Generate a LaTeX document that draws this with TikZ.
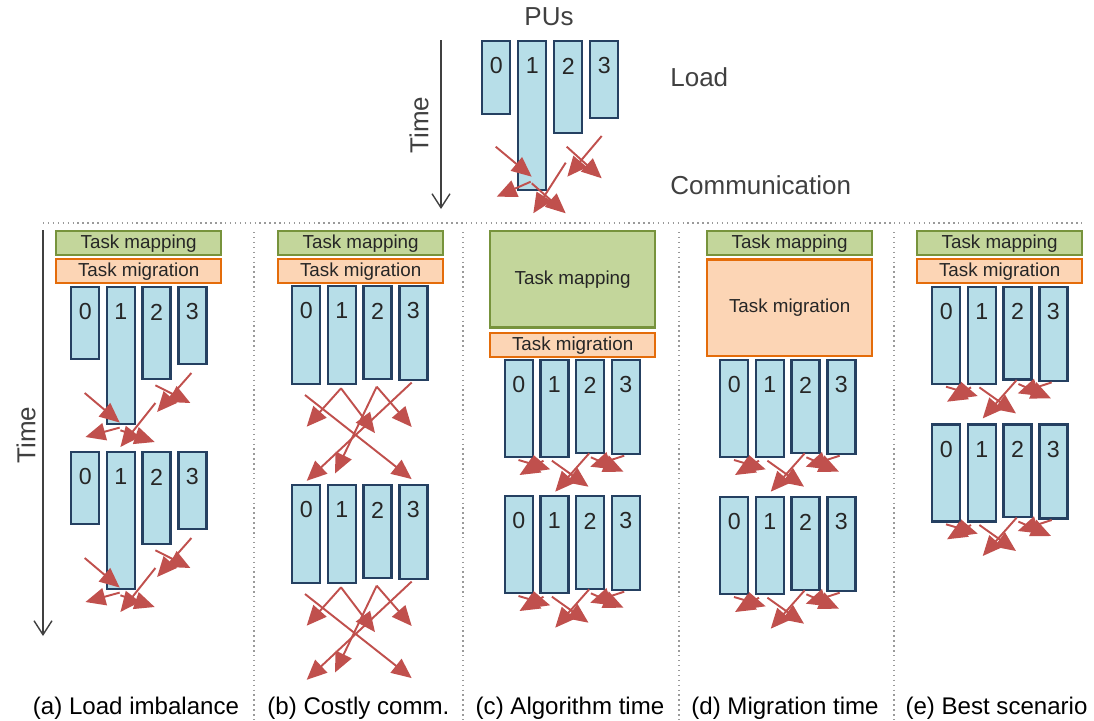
\documentclass[tikz,border=0pt]{standalone}
\usepackage{fontspec}
\setmainfont{Liberation Sans}
\usetikzlibrary{arrows.meta}
\definecolor{barfill}{HTML}{B7DEE8}
\definecolor{barline}{HTML}{254061}
\definecolor{mapfill}{HTML}{C3D69B}
\definecolor{mapline}{HTML}{77933C}
\definecolor{migfill}{HTML}{FCD5B5}
\definecolor{migline}{HTML}{E46C0A}
\definecolor{commred}{HTML}{C0504D}
\definecolor{txt}{HTML}{262626}
\definecolor{legtxt}{HTML}{404040}
\definecolor{sepgray}{HTML}{9A9A9A}

\tikzset{
  bar/.style={draw=barline, fill=barfill, line width=1.4pt, minimum width=0.56cm,
    inner sep=0pt, anchor=north west},
  digit/.style={anchor=center, yshift=-0.52cm, font=\fontsize{13.2}{15}\selectfont,
    text=txt, inner sep=0pt},
  boxbase/.style={line width=1.3pt, minimum width=3.3cm, inner sep=0pt,
    anchor=north west, font=\fontsize{10.7}{12}\selectfont, text=txt},
  mapbox/.style={boxbase, draw=mapline, fill=mapfill},
  migbox/.style={boxbase, draw=migline, fill=migfill},
  comm/.style={draw=commred, line width=1.1pt,
    -{Triangle[length=0.4cm,width=0.35cm]}},
  sepline/.style={draw=sepgray, line width=0.8pt, dotted},
  timearrow/.style={draw=legtxt, line width=0.8pt,
    -{Straight Barb[length=0.28cm,width=0.36cm]}},
  caption/.style={font=\fontsize{13.7}{16}\selectfont, anchor=base, text=black},
  legend/.style={font=\fontsize{14.8}{17}\selectfont, text=legtxt},
  patA/.pic={
    \draw[comm] (-21,-30) -- (14,-0.4);
    \draw[comm] (14,4.6) -- (-20.3,14);
    \draw[comm] (14.7,7.3) -- (49,19);
    \draw[comm] (49.7,-20) -- (14.7,24);
    \draw[comm] (49.7,-37.7) -- (84.7,-20);
    \draw[comm] (85.7,-50) -- (51.4,-11);
  },
  patB/.pic={
    \draw[comm] (50,5.8) -- (15.7,44.2);
    \draw[comm] (50,5.8) -- (84,50.6);
    \draw[comm] (85.7,4.2) -- (120.7,44.5);
    \draw[comm] (85.7,4.2) -- (44,91);
    \draw[comm] (120.7,0) -- (15.7,98.3);
    \draw[comm] (14,12.5) -- (120.7,96.6);
  },
  patC/.pic={
    \draw[comm] (15,4) -- (46.7,13.3);
    \draw[comm] (40,4.7) -- (16,19);
    \draw[comm] (48.4,4.7) -- (85,30.7);
    \draw[comm] (85.7,-2.7) -- (51.7,35.7);
    \draw[comm] (87.4,1.3) -- (120,15.7);
    \draw[comm] (120.7,-0.3) -- (86.7,10.7);
  },
}

% #1 name, #2 x0, #3 top, #4 spacing, #5-#8 heights (px)
\newcommand\fourbars[8]{%
  \node[bar, minimum height=#5*0.02cm, label={[digit]north:0}] (#1-0) at (#2,#3) {};
  \node[bar, minimum height=#6*0.02cm, label={[digit]north:1}] (#1-1) at ({#2+#4},#3) {};
  \node[bar, minimum height=#7*0.02cm, label={[digit]north:2}] (#1-2) at ({#2+2*#4},#3) {};
  \node[bar, minimum height=#8*0.02cm, label={[digit]north:3}] (#1-3) at ({#2+3*#4},#3) {};
}

\begin{document}
\begin{tikzpicture}[x=0.02cm,y=-0.02cm]
\useasboundingbox (0,0) rectangle (1094,720);

% ---------- legend ----------
\node[legend] (pus) at (549,17) {PUs};
\fourbars{leg}{481}{40}{36}{73}{149}{92}{77}
\node[legend, anchor=base west, inner sep=0pt] (load) at (670,86) {Load};
\node[legend, anchor=base west, inner sep=0pt] (commtxt) at (670,194) {Communication};
\node[legend, rotate=90] (ltime) at (419,125) {Time};
\coordinate (lt1) at (441,40);
\coordinate (lt2) at (441,209);
\draw[timearrow] (lt1) -- (lt2);
\draw[comm] (495.7,146.7) -- (531.7,176.7);
\draw[comm] (530.7,181.7) -- (496.7,196.7);
\draw[comm] (531.7,183.3) -- (565.7,213.3);
\draw[comm] (565.7,162.7) -- (533.3,213.3);
\draw[comm] (566.7,146.7) -- (601.7,178.3);
\draw[comm] (601.7,136) -- (567.3,176.7);

% ---------- separators ----------
\coordinate (h1) at (43,223);
\coordinate (h2) at (1085,223);
\draw[sepline] (h1) -- (h2);
\foreach \sx in {254,463,679,894}{
  \draw[sepline] (\sx,232) -- (\sx,720);
}

% ---------- left time axis ----------
\node[legend, rotate=90] (mtime) at (26,435) {Time};
\coordinate (t1) at (43,230);
\coordinate (t2) at (43,636);
\draw[timearrow] (t1) -- (t2);

% ---------- (a) ----------
\node[mapbox, minimum height=0.48cm] (amap) at (55,230) {Task mapping};
\node[migbox, minimum height=0.48cm] (amig) at (55,258) {Task migration};
\fourbars{a1}{70}{286}{35.7}{72}{137}{91.5}{77}
\pic at (105.7,423) {patA};
\fourbars{a2}{70}{451}{35.7}{72}{137}{91.5}{77}
\pic at (105.7,588) {patA};

% ---------- (b) ----------
\node[mapbox, minimum height=0.48cm] (bmap) at (277,230) {Task mapping};
\node[migbox, minimum height=0.48cm] (bmig) at (277,258) {Task migration};
\fourbars{b1}{291}{285}{35.7}{97.5}{97.5}{92.5}{94}
\pic at (291,382.5) {patB};
\fourbars{b2}{291}{484}{35.7}{97.5}{97.5}{92.5}{94}
\pic at (291,581.5) {patB};

% ---------- (c) ----------
\node[mapbox, minimum height=1.93cm] (cmap) at (489,230) {Task mapping};
\node[migbox, minimum height=0.48cm] (cmig) at (489,332) {Task migration};
\fourbars{c1}{503.5}{359}{35.7}{97}{97}{92.5}{94}
\pic at (503.5,456) {patC};
\fourbars{c2}{503.5}{495}{35.7}{97}{97}{92.5}{94}
\pic at (503.5,592) {patC};

% ---------- (d) ----------
\node[mapbox, minimum height=0.48cm] (dmap) at (706,230) {Task mapping};
\node[migbox, minimum height=1.93cm] (dmig) at (706,258.3) {Task migration};
\fourbars{d1}{719}{359}{35.7}{97}{97}{92.5}{94}
\pic at (719,456) {patC};
\fourbars{d2}{719}{496}{35.7}{97}{97}{92.5}{94}
\pic at (719,593) {patC};

% ---------- (e) ----------
\node[mapbox, minimum height=0.48cm] (emap) at (916,230) {Task mapping};
\node[migbox, minimum height=0.48cm] (emig) at (916,258) {Task migration};
\fourbars{e1}{931}{285.7}{35.7}{97}{97}{92.5}{94}
\pic at (931,382.7) {patC};
\fourbars{e2}{931}{423.3}{35.7}{97}{97}{92.5}{94}
\pic at (931,520.3) {patC};

% ---------- captions ----------
\node[caption] (capa) at (136,714) {(a) Load imbalance};
\node[caption] (capb) at (358.4,714) {(b) Costly comm.};
\node[caption] (capc) at (570,714) {(c) Algorithm time};
\node[caption] (capd) at (785,714) {(d) Migration time};
\node[caption] (cape) at (996.5,714) {(e) Best scenario};
\end{tikzpicture}
\end{document}
